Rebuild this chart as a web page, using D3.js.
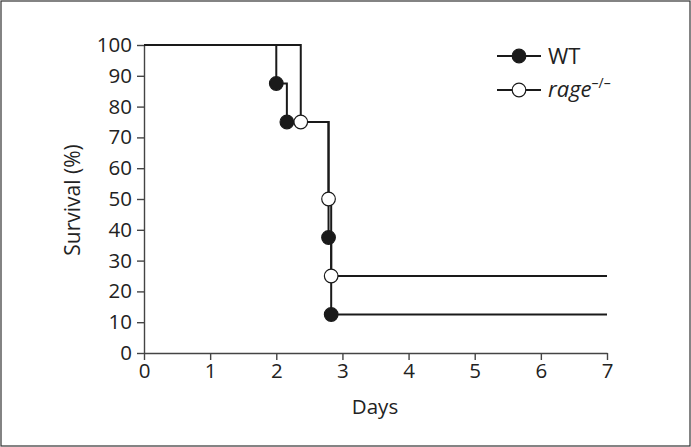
<!DOCTYPE html>
<html><head><meta charset="utf-8">
<script src="https://cdn.jsdelivr.net/npm/d3@7/dist/d3.min.js"></script>
<style>body{margin:0;background:#fff}svg{display:block}text{font-family:"Open Sans",sans-serif;fill:#222}</style>
</head><body><svg id="c" width="691" height="447"></svg>
<script>
const xTicks = [0,1,2,3,4,5,6,7];
const yTicks = [0,10,20,30,40,50,60,70,80,90,100];
const wtTimes = [2.0, 2.16, 2.79, 2.83];
const wtSurv = [87.5, 75, 37.5, 12.5];
const rageTimes = [2.37, 2.79, 2.83];
const rageSurv = [75, 50, 25];
const endTime = 7;

const svg = d3.select("#c");
svg.append("rect").attr("x",1).attr("y",1).attr("width",689).attr("height",445)
  .attr("fill","none").attr("stroke","#333").attr("stroke-width",1.2);

const x = d3.scaleLinear().domain([0,7]).range([144,607]);
const y = d3.scaleLinear().domain([0,100]).range([353,45]);

const xa = svg.append("g").attr("transform","translate(0,353)")
  .call(d3.axisBottom(x).tickValues(xTicks).tickFormat(d3.format("d")).tickSize(7).tickSizeOuter(0).tickPadding(3));
const ya = svg.append("g").attr("transform","translate(144,0)")
  .call(d3.axisLeft(y).tickValues(yTicks).tickFormat(d3.format("d")).tickSize(7).tickSizeOuter(0).tickPadding(5));
[xa,ya].forEach(a=>{
  a.attr("font-size",20.5).attr("font-family","'Open Sans',sans-serif");
  a.selectAll("path,line").attr("stroke","#444").attr("stroke-width",1.4);
  a.selectAll("text").style("fill","#222");
});

svg.append("text").attr("transform","translate(80,200) rotate(-90)")
  .attr("text-anchor","middle").attr("font-size",21).text("Survival (%)");
svg.append("text").attr("x",375).attr("y",414)
  .attr("text-anchor","middle").attr("font-size",20.5).text("Days");

function stepPts(times, surv){
  const pts=[[0,100]]; let cur=100;
  times.forEach((t,i)=>{pts.push([t,cur]); pts.push([t,surv[i]]); cur=surv[i];});
  pts.push([endTime,cur]);
  return pts;
}
const line = d3.line().x(d=>x(d[0])).y(d=>y(d[1]));
const series = [
  {times:wtTimes, surv:wtSurv, fill:"#1a1a1a"},
  {times:rageTimes, surv:rageSurv, fill:"#fff"}
];
series.forEach(s=>{
  svg.append("path").attr("d",line(stepPts(s.times,s.surv)))
    .attr("fill","none").attr("stroke","#1a1a1a").attr("stroke-width",2);
});
series.forEach(s=>{
  svg.selectAll(null).data(s.times.map((t,i)=>[t,s.surv[i]])).enter()
    .append("circle").attr("cx",d=>x(d[0])).attr("cy",d=>y(d[1])).attr("r",6.8)
    .attr("fill",s.fill).attr("stroke","#1a1a1a").attr("stroke-width",1.2);
});

// legend
const lg = [{label:"WT", fill:"#1a1a1a", y:56},{label:"rage", fill:"#fff", y:90}];
lg.forEach(l=>{
  svg.append("line").attr("x1",497).attr("x2",541).attr("y1",l.y).attr("y2",l.y)
    .attr("stroke","#1a1a1a").attr("stroke-width",2);
  svg.append("circle").attr("cx",519).attr("cy",l.y).attr("r",6.8)
    .attr("fill",l.fill).attr("stroke","#1a1a1a").attr("stroke-width",1.2);
});
svg.append("text").attr("x",548).attr("y",64).attr("font-size",22).text("WT");
const rt = svg.append("text").attr("x",548).attr("y",97).attr("font-size",22);
rt.append("tspan").attr("font-style","italic").text("rage");
rt.append("tspan").attr("font-size",14).attr("dy",-9).text("–/–");
</script></body></html>
